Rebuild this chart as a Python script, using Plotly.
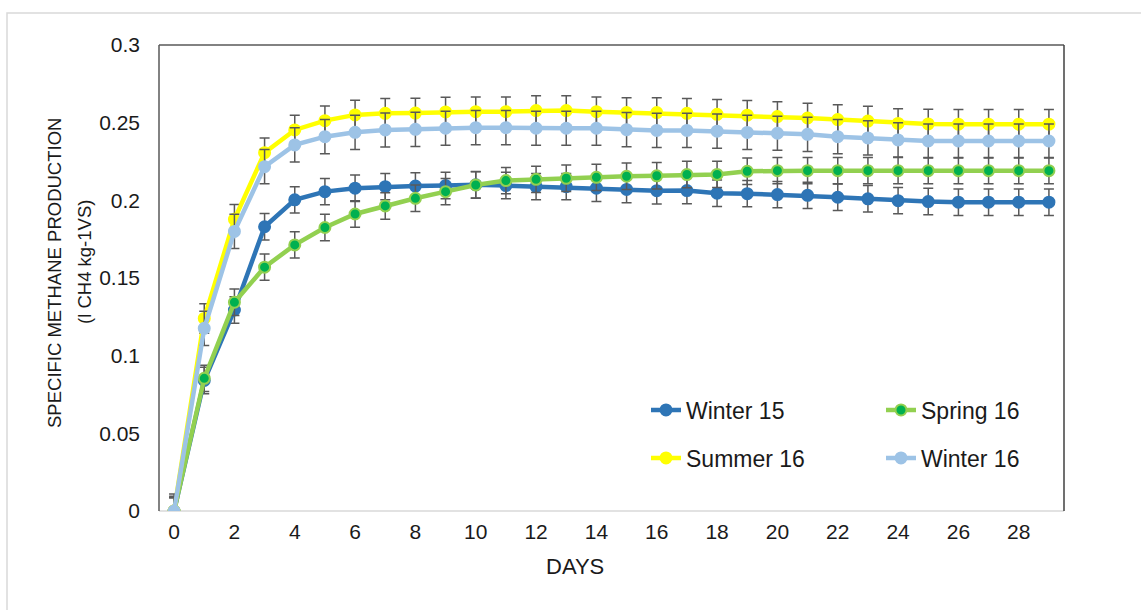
import plotly.graph_objects as go

# Specific methane production over the digestion period (l CH4 kg-1 VS)
days = list(range(30))

winter15 = [0, 0.084, 0.1294, 0.183, 0.2003, 0.2056, 0.2078, 0.2088, 0.2092, 0.2095,
            0.2100, 0.2095, 0.2088, 0.2088, 0.2078, 0.2070, 0.2062, 0.2063, 0.2046, 0.2043,
            0.2037, 0.2032, 0.2020, 0.2010, 0.1998, 0.1992, 0.1988, 0.1988, 0.1988, 0.1988]
spring16 = [0, 0.0854, 0.1344, 0.1570, 0.1713, 0.1825, 0.1912, 0.1964, 0.2013, 0.2056,
            0.2099, 0.2127, 0.2135, 0.2142, 0.2148, 0.2155, 0.2158, 0.2166, 0.2167, 0.2187,
            0.2191, 0.2191, 0.2191, 0.2191, 0.2191, 0.2191, 0.2191, 0.2191, 0.2191, 0.2191]
summer16 = [0, 0.1240, 0.1878, 0.2307, 0.2453, 0.2513, 0.2550, 0.2560, 0.2562, 0.2569,
            0.2571, 0.2571, 0.2578, 0.2578, 0.2571, 0.2565, 0.2565, 0.2560, 0.2554, 0.2548,
            0.2539, 0.2530, 0.2520, 0.2510, 0.2495, 0.2492, 0.2490, 0.2490, 0.2490, 0.2490]
winter16 = [0, 0.1176, 0.1800, 0.2217, 0.2357, 0.2410, 0.2438, 0.2453, 0.2457, 0.2464,
            0.2468, 0.2468, 0.2464, 0.2464, 0.2464, 0.2455, 0.2450, 0.2450, 0.2445, 0.2437,
            0.2432, 0.2425, 0.2410, 0.2402, 0.2389, 0.2382, 0.2382, 0.2382, 0.2382, 0.2382]

# Standard deviation shown as symmetric error bars
err_winter15 = 0.0085
err_spring16 = 0.0085
err_summer16 = 0.0095
err_winter16 = 0.011

x_ticks = list(range(0, 29, 2))
y_ticks = [0, 0.05, 0.1, 0.15, 0.2, 0.25, 0.3]
y_tick_text = ["0", "0.05", "0.1", "0.15", "0.2", "0.25", "0.3"]

series = [
    ("Winter 15", winter15, err_winter15, "#2E75B6", "#2E75B6", "legend"),
    ("Spring 16", spring16, err_spring16, "#92D050", "#00B050", "legend"),
    ("Summer 16", summer16, err_summer16, "#FFFF00", "#FFFF00", "legend2"),
    ("Winter 16", winter16, err_winter16, "#9DC3E6", "#9DC3E6", "legend2"),
]

FONT = "Liberation Sans, Arial, sans-serif"

fig = go.Figure()
for name, vals, err, line_col, fill_col, leg in series:
    fig.add_trace(go.Scatter(
        x=days, y=vals, name=name, mode="lines+markers",
        line=dict(color=line_col, width=4.5),
        marker=dict(size=11, color=fill_col, line=dict(color=line_col, width=2)),
        error_y=dict(type="constant", value=err, color="#595959", thickness=1.5, width=5),
        legend=leg,
    ))

# plot area geometry in pixels
W, H = 1141, 610
L, R, T, B = 159, 1064, 45, 511
pw, ph = R - L, B - T

def px(x):
    return (x - L) / pw

def py(y):
    return (B - y) / ph

shapes = [
    # outer chart frame
    dict(type="rect", xref="paper", yref="paper", x0=px(7), x1=px(1160), y0=py(13), y1=py(640),
         line=dict(color="#d9d9d9", width=1.5), layer="below"),
    # plot area frame: dark left/top/right, light bottom axis
    dict(type="line", xref="paper", yref="paper", x0=0, x1=0, y0=0, y1=1,
         line=dict(color="#595959", width=1.5)),
    dict(type="line", xref="paper", yref="paper", x0=0, x1=1, y0=1, y1=1,
         line=dict(color="#595959", width=1.5)),
    dict(type="line", xref="paper", yref="paper", x0=1, x1=1, y0=0, y1=1,
         line=dict(color="#404040", width=1.5)),
    dict(type="line", xref="paper", yref="paper", x0=0, x1=1, y0=0, y1=0,
         line=dict(color="#d9d9d9", width=1.5), layer="below"),
]

annotations = [
    dict(text="DAYS", xref="paper", yref="paper", x=px(575), y=py(566),
         showarrow=False, font=dict(family=FONT, size=22, color="#1a1a1a"),
         xanchor="center", yanchor="middle"),
    dict(text="SPECIFIC METHANE PRODUCTION", xref="paper", yref="paper", x=px(54), y=py(273),
         showarrow=False, textangle=-90,
         font=dict(family=FONT, size=18.5, color="#1a1a1a"),
         xanchor="center", yanchor="middle"),
    dict(text="(l CH4 kg-1VS)", xref="paper", yref="paper", x=px(84), y=py(262),
         showarrow=False, textangle=-90,
         font=dict(family=FONT, size=18.5, color="#1a1a1a"),
         xanchor="center", yanchor="middle"),
]

legend_common = dict(
    orientation="h", xref="paper", yref="paper", xanchor="left", yanchor="middle",
    font=dict(family=FONT, size=23, color="#1a1a1a"), bgcolor="rgba(0,0,0,0)",
    entrywidth=190, entrywidthmode="pixels", itemwidth=30, tracegroupgap=0,
)

fig.update_layout(
    width=W, height=H,
    margin=dict(l=L, r=W - R, t=T, b=H - B),
    paper_bgcolor="white", plot_bgcolor="white",
    font=dict(family=FONT, size=20, color="#1a1a1a"),
    showlegend=True,
    legend=dict(x=px(646), y=py(410), **legend_common),
    legend2=dict(x=px(646), y=py(458), **legend_common),
    xaxis=dict(range=[-0.5, 29.5], tickmode="array", tickvals=x_ticks,
               ticktext=[str(t) for t in x_ticks], showgrid=False, zeroline=False,
               showline=False, ticks="", tickfont=dict(family=FONT, size=21, color="#1a1a1a"),
               ticklabelstandoff=6),
    yaxis=dict(range=[0, 0.3], tickmode="array", tickvals=y_ticks, ticktext=y_tick_text,
               showgrid=False, zeroline=False, showline=False, ticks="",
               tickfont=dict(family=FONT, size=21, color="#1a1a1a"), ticklabelstandoff=18),
    shapes=shapes,
    annotations=annotations,
)

fig.write_html("out.html")
